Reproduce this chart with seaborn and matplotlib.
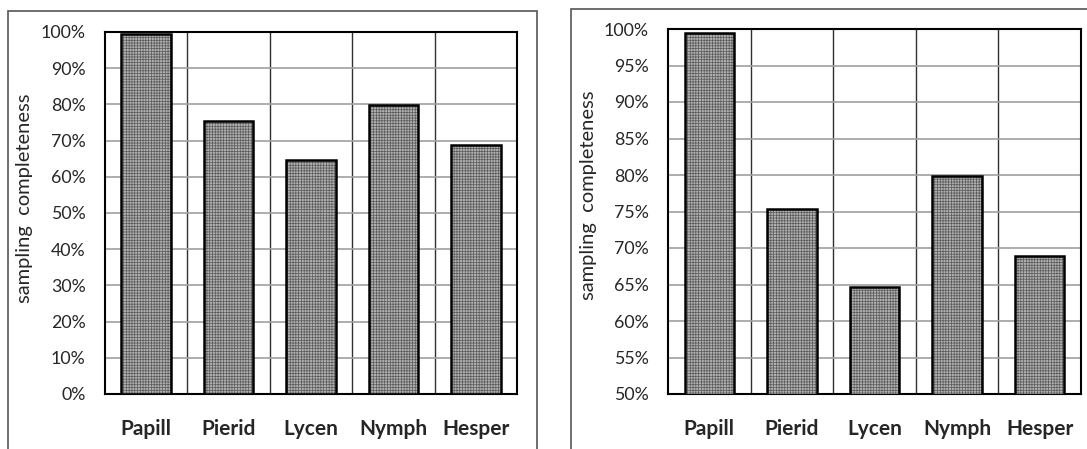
import matplotlib
matplotlib.use("Agg")
import matplotlib.pyplot as plt
from matplotlib.patches import Rectangle
from matplotlib.ticker import FuncFormatter, FixedLocator
import pandas as pd
import seaborn as sns

families = ["Papill", "Pierid", "Lycen", "Nymph", "Hesper"]
completeness = [99.5, 75.4, 64.7, 79.9, 68.9]
left_ticks = [0, 10, 20, 30, 40, 50, 60, 70, 80, 90, 100]
right_ticks = [50, 55, 60, 65, 70, 75, 80, 85, 90, 95, 100]

df = pd.DataFrame({"family": families, "completeness": completeness})

sns.set_style("white")
plt.rcParams["font.family"] = ["Lato", "DejaVu Sans"]
plt.rcParams["hatch.linewidth"] = 0.5

fig = plt.figure(figsize=(10.87, 4.49), dpi=100)
W, H = 1087, 449

# outer chart frames
fig.patches.append(Rectangle((8 / W, -0.05), (537 - 8) / W, 1.05 - 11 / H,
                             transform=fig.transFigure, fill=False,
                             edgecolor="#555555", linewidth=1.2))
fig.patches.append(Rectangle((571 / W, -0.05), 0.6, 1.05 - 9 / H,
                             transform=fig.transFigure, fill=False,
                             edgecolor="#555555", linewidth=1.2))

ax1 = fig.add_axes([105 / W, 1 - 394 / H, 412 / W, 362 / H])
ax2 = fig.add_axes([668 / W, 1 - 394 / H, 413 / W, 365 / H])


def draw(ax, ticks, label_pos):
    lo, hi = ticks[0], ticks[-1]
    # textured fill
    sns.barplot(data=df, x="family", y="completeness", ax=ax, width=0.6,
                color="#b0b0b0", saturation=1, edgecolor="#5a5a5a",
                linewidth=0, hatch="++++++", zorder=3)
    # outlines
    sns.barplot(data=df, x="family", y="completeness", ax=ax, width=0.6,
                fill=False, edgecolor="black", linewidth=1.8, zorder=4)
    for p in ax.patches[len(families):]:
        p.set_facecolor("none")
    ax.set_ylim(lo, hi)
    ax.set_xlim(-0.5, len(families) - 0.5)
    ax.yaxis.set_major_locator(FixedLocator(ticks))
    ax.yaxis.set_major_formatter(FuncFormatter(lambda v, _: f"{v:.0f}%"))
    ax.xaxis.set_minor_locator(FixedLocator([i + 0.5 for i in range(len(families) - 1)]))
    ax.grid(axis="y", which="major", color="#a0a0a0", linewidth=1.2, zorder=0)
    ax.grid(axis="x", which="minor", color="#303030", linewidth=1.0, zorder=0)
    ax.set_axisbelow(True)
    ax.tick_params(axis="both", which="both", length=0)
    ax.tick_params(axis="y", labelsize=12.8, pad=14)
    ax.tick_params(axis="x", labelsize=15, pad=18)
    for t in ax.get_xticklabels():
        t.set_fontweight("bold")
    for s in ax.spines.values():
        s.set_visible(True)
        s.set_color("black")
        s.set_linewidth(1.5)
    ax.set_xlabel("")
    ax.set_ylabel("sampling  completeness", fontsize=14.5)
    ax.yaxis.set_label_coords(*label_pos)


draw(ax1, left_ticks, (-0.175, 0.54))
draw(ax2, right_ticks, (-0.172, 0.545))

fig.savefig("out.png", dpi=100)
